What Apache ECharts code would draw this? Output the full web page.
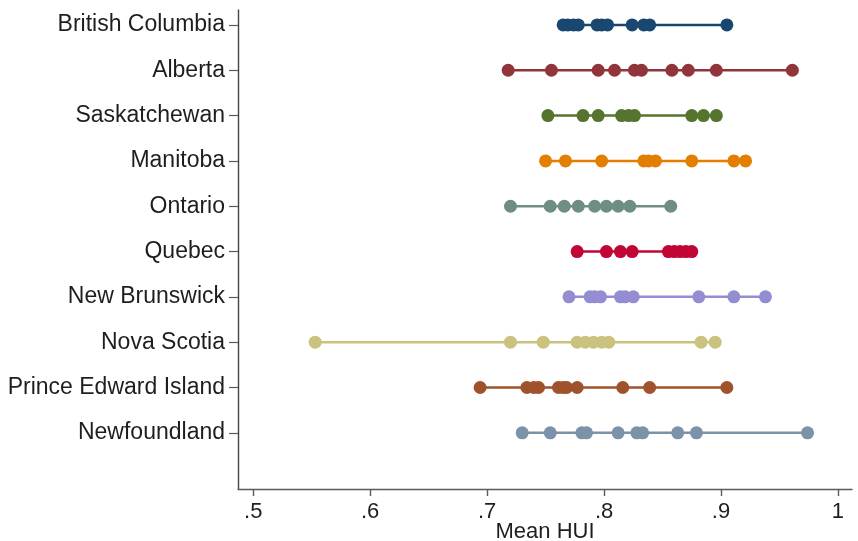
<!DOCTYPE html>
<html>
<head>
<meta charset="utf-8">
<script src="https://cdn.jsdelivr.net/npm/echarts@6/dist/echarts.min.js"></script>
<style>
  html, body { margin: 0; padding: 0; background: #fff; }
  #chart { width: 858px; height: 541px; }
</style>
</head>
<body>
<div id="chart"></div>
<script>
// Provinces, top to bottom
const provinces = [
  'British Columbia', 'Alberta', 'Saskatchewan', 'Manitoba', 'Ontario',
  'Quebec', 'New Brunswick', 'Nova Scotia', 'Prince Edward Island', 'Newfoundland'
];

// Mean HUI values per province
const britishColumbia = [0.765, 0.769, 0.774, 0.778, 0.794, 0.798, 0.803, 0.824, 0.834, 0.839, 0.905];
const alberta = [0.718, 0.755, 0.795, 0.809, 0.826, 0.832, 0.858, 0.872, 0.896, 0.961];
const saskatchewan = [0.752, 0.782, 0.795, 0.815, 0.821, 0.826, 0.875, 0.885, 0.896];
const manitoba = [0.750, 0.767, 0.798, 0.834, 0.838, 0.844, 0.875, 0.911, 0.921];
const ontario = [0.720, 0.754, 0.766, 0.778, 0.792, 0.802, 0.812, 0.822, 0.857];
const quebec = [0.777, 0.802, 0.814, 0.824, 0.855, 0.860, 0.865, 0.870, 0.875];
const newBrunswick = [0.770, 0.788, 0.792, 0.797, 0.814, 0.818, 0.825, 0.881, 0.911, 0.938];
const novaScotia = [0.553, 0.720, 0.748, 0.777, 0.784, 0.791, 0.798, 0.804, 0.883, 0.895];
const princeEdwardIsland = [0.694, 0.734, 0.740, 0.744, 0.761, 0.765, 0.768, 0.777, 0.816, 0.839, 0.905];
const newfoundland = [0.730, 0.754, 0.781, 0.785, 0.812, 0.828, 0.833, 0.863, 0.879, 0.974];

const provinceValues = [
  britishColumbia, alberta, saskatchewan, manitoba, ontario,
  quebec, newBrunswick, novaScotia, princeEdwardIsland, newfoundland
];

// x-axis tick labels
const xTicks = [0.5, 0.6, 0.7, 0.8, 0.9, 1.0];
const xTickLabels = ['.5', '.6', '.7', '.8', '.9', '1'];

const colors = ['#1a476f', '#90353b', '#55752f', '#e37e00', '#6e8e84',
                '#c10534', '#938dd2', '#cac27e', '#a0522d', '#7b92a8'];

// row position: first province on top
const rowOf = i => provinces.length - i;
const rowTicks = provinces.map((_, i) => rowOf(i));

const series = provinceValues.map((vals, i) => ({
  name: provinces[i],
  type: 'line',
  data: vals.slice().sort((a, b) => a - b).map(v => [v, rowOf(i)]),
  symbol: 'circle',
  symbolSize: 13,
  color: colors[i],
  lineStyle: { width: 2.5, color: colors[i] },
  itemStyle: { color: colors[i] },
  emphasis: { disabled: true },
  animation: false,
  z: 2
}));

const fontFamily = 'Liberation Sans, Arial, Helvetica, sans-serif';
const axisColor = '#5a5a5a';

const chart = echarts.init(document.getElementById('chart'), null, { renderer: 'canvas' });
chart.setOption({
  backgroundColor: '#fff',
  animation: false,
  grid: { left: 238, top: 10, right: 6, bottom: 52, containLabel: false, outerBoundsMode: 'none' },
  xAxis: {
    type: 'value',
    min: 0.487,
    max: 1.012,
    name: 'Mean HUI',
    nameLocation: 'middle',
    nameGap: 32,
    nameMoveOverlap: false,
    nameTextStyle: { fontSize: 22, fontFamily: fontFamily, color: '#1e1e1e' },
    splitLine: { show: false },
    axisLine: { show: true, onZero: false, lineStyle: { color: axisColor, width: 1.4 } },
    axisTick: { show: true, length: 7, customValues: xTicks, lineStyle: { color: axisColor, width: 1.4 } },
    axisLabel: {
      customValues: xTicks,
      margin: 12,
      fontSize: 22,
      fontFamily: fontFamily,
      color: '#1e1e1e',
      formatter: v => {
        const k = xTicks.findIndex(t => Math.abs(t - v) < 1e-6);
        return k >= 0 ? xTickLabels[k] : '';
      }
    }
  },
  yAxis: {
    type: 'value',
    min: -0.24,
    max: 10.33,
    splitLine: { show: false },
    axisLine: { show: true, onZero: false, lineStyle: { color: '#444', width: 1.4 } },
    axisTick: { show: true, length: 9, customValues: rowTicks, lineStyle: { color: axisColor, width: 1.2 } },
    axisLabel: {
      customValues: rowTicks,
      margin: 13,
      fontSize: 23,
      fontFamily: fontFamily,
      color: '#1e1e1e',
      formatter: v => {
        const i = provinces.length - Math.round(v);
        return provinces[i] || '';
      }
    }
  },
  series: series
});
</script>
</body>
</html>
